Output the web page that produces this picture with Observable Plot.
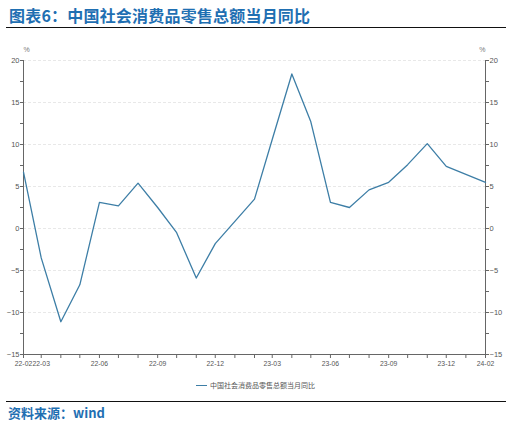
<!DOCTYPE html>
<html><head><meta charset="utf-8">
<script src="https://cdn.jsdelivr.net/npm/d3@7"></script>
<script src="https://cdn.jsdelivr.net/npm/@observablehq/plot@0.6"></script>
<style>
body{margin:0;background:#fff;width:506px;height:423px;position:relative;overflow:hidden;font-family:"Noto Sans CJK SC","Noto Sans",sans-serif;}
#title{position:absolute;left:9px;top:3px;font-size:16px;font-weight:bold;color:#1f6fb2;letter-spacing:0.2px;white-space:nowrap;}
#hr1{position:absolute;left:6px;right:0;top:27px;height:0;border-top:1.5px solid #111;}
#chart{position:absolute;left:0;top:40px;}
#legend{position:absolute;left:196px;top:380px;font-size:7px;color:#555;white-space:nowrap;display:flex;align-items:center;}
#legend span.sw{display:inline-block;width:11px;height:0;border-top:1.5px solid #3d7ea6;margin-right:3px;}
#hr2{position:absolute;left:6px;right:0;top:401px;height:0;border-top:1.5px solid #111;}
#source{position:absolute;left:8px;top:403px;font-size:13px;font-weight:bold;color:#1f6fb2;white-space:nowrap;}
</style></head>
<body>
<div id="title">图表6：中国社会消费品零售总额当月同比</div>
<div id="hr1"></div>
<div id="chart"></div>
<div id="legend"><span class="sw"></span>中国社会消费品零售总额当月同比</div>
<div id="hr2"></div>
<div id="source">资料来源：wind</div>
<script>
const months = ["2022-02","2022-03","2022-04","2022-05","2022-06","2022-07","2022-08","2022-09","2022-10","2022-11","2022-12",
  "2023-02","2023-03","2023-04","2023-05","2023-06","2023-07","2023-08","2023-09","2023-10","2023-11","2023-12","2024-02"];
const values = [6.7,-3.5,-11.1,-6.7,3.1,2.7,5.4,2.5,-0.5,-5.9,-1.8,3.5,10.6,18.4,12.7,3.1,2.5,4.6,5.5,7.6,10.1,7.4,5.5];
const xTickLabels = ["2022-02","2022-03","2022-06","2022-09","2022-12","2023-03","2023-06","2023-09","2023-12","2024-02"];
const yTicks = [-15,-10,-5,0,5,10,15,20];
const yMinorTicks = [-15,-12.5,-10,-7.5,-5,-2.5,0,2.5,5,7.5,10,12.5,15,17.5,20];
const seriesName = "中国社会消费品零售总额当月同比";

const parse = s => new Date(s + "-01T00:00:00Z");
const data = months.map((m,i)=>({date: parse(m), value: values[i]}));
const x0 = parse(months[0]), x1 = parse(months[months.length-1]);
const allMonths = d3.utcMonth.range(x0, d3.utcMonth.offset(x1,1));
const fmt = d => d3.utcFormat("%y-%m")(d);
const axisColor = "#666";

const chart = Plot.plot({
  width: 506, height: 335,
  marginLeft: 23, marginRight: 21, marginTop: 20, marginBottom: 21,
  style: {fontFamily: "'Liberation Sans', Arial, sans-serif", fontSize: "7.5px", color: "#555", background: "#fff"},
  x: {type: "utc", domain: [x0, x1]},
  y: {domain: [-15, 20]},
  marks: [
    Plot.gridY(yTicks.filter(v=>v>-15), {stroke: "#d8d8d8", strokeOpacity: 1, strokeDasharray: "3,2", strokeWidth: 0.6}),
    Plot.axisY(yMinorTicks, {anchor: "left", tickSize: 3, text: null, stroke: axisColor, label: null}),
    Plot.axisY(yMinorTicks, {anchor: "right", tickSize: 3, text: null, stroke: axisColor, label: null}),
    Plot.axisY(yTicks, {anchor: "left", tickSize: 0, tickPadding: 4, fill: "#555", label: null}),
    Plot.axisY(yTicks, {anchor: "right", tickSize: 0, tickPadding: 4, fill: "#555", label: null}),
    Plot.axisX(allMonths, {tickSize: 4, text: null, stroke: axisColor, label: null}),
    Plot.axisX(xTickLabels.map(parse), {tickSize: 0, tickPadding: 7, tickFormat: fmt, fill: "#555", fontSize: 6.8, label: null}),
    Plot.ruleX([x0, x1], {stroke: axisColor, strokeWidth: 1}),
    Plot.ruleY([-15], {stroke: axisColor, strokeWidth: 1}),
    Plot.text(["%"], {frameAnchor: "top-left", dy: -13, fill: "#777", fontSize: 7}),
    Plot.text(["%"], {frameAnchor: "top-right", dy: -13, fill: "#777", fontSize: 7}),
    Plot.line(data, {x: "date", y: "value", stroke: "#3d7ea6", strokeWidth: 1.3})
  ]
});
document.getElementById("chart").appendChild(chart);
</script>
</body></html>
